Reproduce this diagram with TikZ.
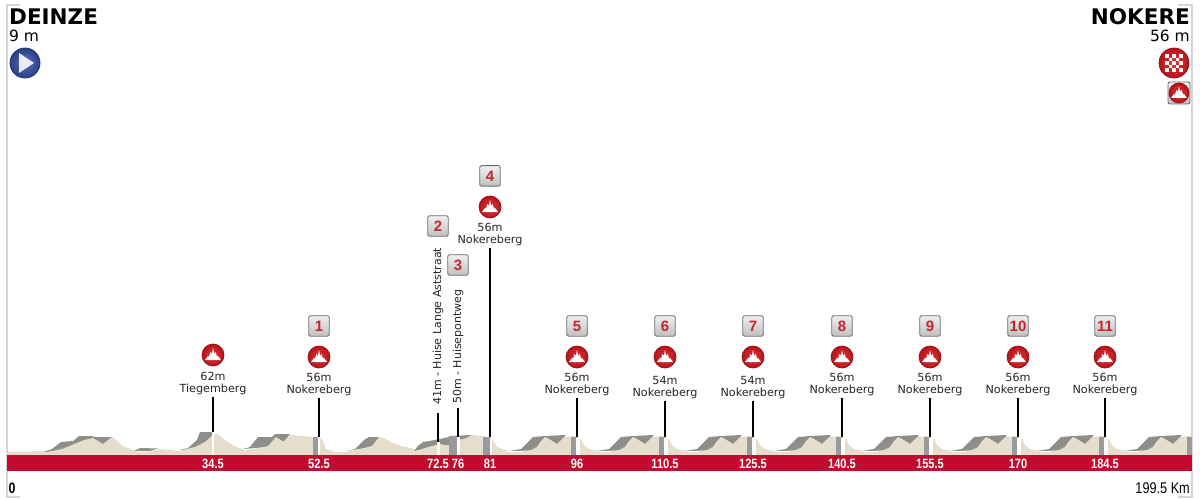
\documentclass[tikz,border=0pt]{standalone}
\usepackage{fontspec}
\setmainfont{DejaVu Sans}
\newfontfamily\kmfont{Liberation Sans}
\usetikzlibrary{positioning}
\definecolor{barred}{HTML}{C30A2E}
\definecolor{sand}{HTML}{E7DDCD}
\definecolor{rock}{HTML}{8E8E8A}
\definecolor{band}{HTML}{9A9A9E}
\definecolor{frame}{HTML}{D4D4D4}
\definecolor{digit}{HTML}{C4262B}
\definecolor{iconin}{HTML}{E2383C}
\definecolor{iconout}{HTML}{B5141A}
\definecolor{playin}{HTML}{5572B8}
\definecolor{playout}{HTML}{2A3F88}
\tikzset{
	badge/.style={draw=gray!85!black,line width=.9pt,rounded corners=2pt,top color=gray!12,bottom color=gray!50,minimum size=20.5pt,inner sep=0pt,text=digit,font=\kmfont\bfseries\fontsize{15}{15}\selectfont},
	climbicon/.style={circle,draw=iconout!80!black,line width=.7pt,inner color=iconin,outer color=iconout,minimum size=22pt,inner sep=0pt},
	climbtext/.style={align=center,inner sep=0pt,font=\fontsize{11.2}{12}\selectfont,text=black!85},
	sidetext/.style={rotate=90,anchor=west,inner sep=0pt,font=\fontsize{11}{12}\selectfont,text=black!85},
	kmtext/.style={text=white,inner sep=0pt,xscale=.82,font=\kmfont\bfseries\fontsize{13.5}{14}\selectfont},
	endtext/.style={text=black,inner sep=0pt,xscale=.82,font=\kmfont\fontsize{15.5}{16}\selectfont},
	post/.style={line width=1.8pt,black}
}
% white peak on a climb icon
\newcommand{\peakmark}[1]{\fill[white,shift={(#1)}] (-8,5) -- (-5,1) -- (-4,1.5) -- (-2.5,-3) -- (-1.2,-1) -- (0,-7) -- (1.2,-1) -- (2.5,-3) -- (4,1.5) -- (5,1) -- (8,5) -- cycle;}
% one hill of the lap, marker at x
\newcommand{\lap}[1]{
	\fill[rock,shift={(#1,0)}] (-68,451) -- (-56,449) -- (-44,437) -- (-32,436) -- (-12,435) -- (-12,450) -- cycle;
	\fill[sand,shift={(#1,0)}] (-66,455) -- (-56,452) -- (-46,450) -- (-40,447) -- (-36,441) -- (-32,437) -- (-28,439) -- (-20,444) -- (-13,437) -- (-4,436) -- (0,437) -- (4,439) -- (7,445) -- (12,449) -- (24,452) -- (24,455) -- cycle;
	\fill[band,shift={(#1,0)}] (-6,437) rectangle (-1,455);
	\fill[white,shift={(#1,0)}] (-1,438) rectangle (3,455);
}
\begin{document}
\begin{tikzpicture}[x=1pt,y=-1pt]
\useasboundingbox (0,0) rectangle (1200,500);
% frame
\draw[frame,line width=1.2pt] (20,5) -- (7,5) -- (7,497) -- (20,497);
\draw[frame,line width=1.2pt] (1178,5) -- (1192,5) -- (1192,497) -- (1178,497);
% profile
\begin{scope}
\clip (7,400) rectangle (1192,455);
\fill[sand] (7,451.5) rectangle (1192,455);
\fill[rock] (7,451.5) -- (45,451.5) -- (52,449) -- (61,442) -- (73,441) -- (79,436) -- (90,436) -- (97,437) -- (112,437) -- (106,445) -- (60,452) -- cycle;
\fill[sand] (7,452) -- (47,452) -- (62,449) -- (72,445) -- (84,440) -- (93,438) -- (103,444) -- (112,437) -- (118,441) -- (122,446) -- (131,449) -- (137,452) -- (137,455) -- (7,455) -- cycle;
\fill[rock] (134,451) -- (140,448) -- (158,448.5) -- (150,451) -- cycle;
\fill[rock] (180,450) -- (188,448) -- (197,440) -- (200,432) -- (212,432) -- (212,451) -- cycle;
\fill[sand] (137,455) -- (150,451) -- (160,449) -- (178,451) -- (195,447) -- (205,442) -- (213,435) -- (218,434) -- (226,441) -- (236,447) -- (243,449) -- (247,455) -- cycle;
\fill[white] (212,435) rectangle (214,455);
\fill[rock] (243,449) -- (250,447) -- (258,437) -- (272,437) -- (275,434) -- (290,434) -- (284,442) -- (277,438) -- (268,447) -- cycle;
\fill[sand] (240,455) -- (246,450) -- (260,448) -- (268,446) -- (276,437) -- (283,442) -- (290,435) -- (305,436) -- (320,438) -- (323,441) -- (326,449) -- (336,452) -- (336,455) -- cycle;
\fill[band] (313,437) rectangle (318,455);
\fill[white] (318,438) rectangle (320,455);
\fill[rock] (347,451) -- (355,449) -- (364,440) -- (369,437) -- (380,437) -- (372,447) -- cycle;
\fill[sand] (340,455) -- (347,451.5) -- (360,449) -- (372,446) -- (379,437) -- (384,438) -- (392,443) -- (402,446) -- (414,449) -- (414,455) -- cycle;
\fill[rock] (414,451) -- (418,446) -- (423,442) -- (435,440) -- (449,437) -- (449,445) -- cycle;
\fill[rock] (449,436) -- (472,435) -- (462,441) -- (449,445) -- cycle;
\fill[sand] (410,455) -- (416,451) -- (428,447) -- (440,444) -- (448,446) -- (456,440) -- (464,439) -- (472,435) -- (482,436) -- (491,438) -- (494,442) -- (497,447) -- (508,451) -- (510,455) -- cycle;
\fill[white] (437,442) rectangle (440,455);
\fill[band] (449,436) rectangle (457,455);
\fill[white] (457,437) rectangle (460,455);
\fill[band] (483,437) rectangle (490,455);
\fill[white] (490,438) rectangle (492,455);
\foreach \lapx in {577,665,753,842,930,1018,1105,1193}{
	\lap{\lapx}
}
\end{scope}
\fill[barred] (7,455) rectangle (1192,471);
% start and finish
\node[inner sep=0pt,anchor=base west,font=\bfseries\fontsize{21.5}{24}\selectfont] (start) at (9,25) {DEINZE};
\node[inner sep=0pt,anchor=base west,font=\fontsize{15.5}{16}\selectfont] (startalt) at (9,42) {9 m};
\node[circle,draw=playout!80!black,line width=.8pt,inner color=playin,outer color=playout,minimum size=30pt,inner sep=0pt] (starticon) at (25,63) {};
\fill[blue!8!white] ([shift={(-6,-10)}]starticon.center) -- ++(15,10) -- ++(-15,10) -- cycle;
\node[inner sep=0pt,anchor=base east,font=\bfseries\fontsize{21.5}{24}\selectfont] (finish) at (1190,25) {NOKERE};
\node[inner sep=0pt,anchor=base east,font=\fontsize{15.5}{16}\selectfont] (finishalt) at (1190,42) {56 m};
\node[climbicon,minimum size=30pt] (finishicon) at (1174,63) {};
\foreach \i in {-2,...,2}{
	\foreach \j in {-2,...,2}{
		\pgfmathparse{int(mod(\i+\j+4,2))}
		\ifnum\pgfmathresult=0
			\fill[white] ([shift={(\i*3.6-1.8,\j*3.6-1.8)}]finishicon.center) rectangle ++(3.6,3.6);
		\fi
	}
}
\node[badge,minimum size=22pt] (finishbadge) at (1179,93) {};
\node[climbicon,minimum size=20pt] (finishclimb) at (1179,93) {};
\peakmark{finishclimb.center}
% climbs with a badge
\foreach \n/\x/\top/\alt/\gap in {1/319/357/56m/16,4/490/207/56m/16,5/577/357/56m/16,6/665/357/54m/19,7/753/357/54m/19,8/842/357/56m/16,9/930/357/56m/16,10/1018/357/56m/16,11/1105/357/56m/16}{
	\node[climbicon] (icon\n) at (\x,\top) {};
	\peakmark{icon\n.center}
	\node[badge,above=9pt of icon\n] (badge\n) {\n};
	\node[climbtext,below=\gap pt of icon\n.south,anchor=north,yshift=-1pt,text height=7.5pt] (label\n) {\alt\\[0pt]Nokereberg};
	\coordinate (foot\n) at (\x,437);
	\draw[post] (label\n.south) ++(0,2) -- (foot\n);
}
\node[climbicon] (icon0) at (213,355) {};
\peakmark{icon0.center}
\node[climbtext,anchor=north] (label0) at (213,372) {62m\\[0pt]Tiegemberg};
\coordinate (foot0) at (213,432);
\draw[post] (label0.south) ++(0,2) -- (foot0);
% climbs set on their side
\node[badge] (badge2) at (438,226) {2};
\node[badge] (badge3) at (458,265) {3};
\node[sidetext] (side2) at (438,405) {41m - Huise Lange Aststraat};
\node[sidetext] (side3) at (458,404) {50m - Huisepontweg};
\coordinate (foot2) at (438,442);
\coordinate (foot3) at (458,437);
\draw[post] (side2.west) ++(0,8) -- (foot2);
\draw[post] (side3.west) ++(0,4) -- (foot3);
% km along the bar
\foreach \x/\km in {213/34.5,319/52.5,438/72.5,458/76,490/81,577/96,665/110.5,753/125.5,842/140.5,930/155.5,1018/170,1105/184.5}{
	\node[kmtext] (km\x) at (\x,464) {\km};
}
\node[endtext,font=\kmfont\bfseries\fontsize{15}{16}\selectfont] (zero) at (12,488) {0};
\node[endtext,anchor=east] (total) at (1190,488) {199.5 Km};
\end{tikzpicture}
\end{document}
